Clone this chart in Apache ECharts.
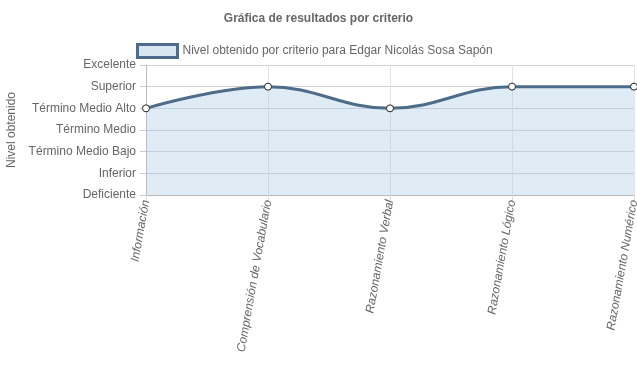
<!DOCTYPE html>
<html><head><meta charset="utf-8">
<script src="https://cdn.jsdelivr.net/npm/echarts@6/dist/echarts.min.js"></script>
<style>html,body{margin:0;padding:0;background:#fff}#c{width:637px;height:389px}</style>
</head><body><div id="c"></div>
<script>
const categories = ["Información","Comprensión de Vocabulario","Razonamiento Verbal","Razonamiento Lógico","Razonamiento Numérico"];
const levels = ["Deficiente","Inferior","Término Medio Bajo","Término Medio","Término Medio Alto","Superior","Excelente"];
const values = [4,5,4,5,5];
const seriesName = "Nivel obtenido por criterio para Edgar Nicolás Sosa Sapón";
const titleText = "Gráfica de resultados por criterio";
const yName = "Nivel obtenido";

const chart = echarts.init(document.getElementById('c'));
const font = "'Liberation Sans', Arial, Helvetica, sans-serif";
chart.setOption({
  animation:false,
  textStyle:{fontFamily:font},
  title:{text:titleText,left:'center',top:8,textStyle:{fontSize:12,fontWeight:'bold',color:'#666',fontFamily:font}},
  legend:{top:43,left:136,padding:0,itemWidth:40,itemHeight:13,itemGap:6,icon:'rect',
    textStyle:{fontSize:12,color:'#666',fontFamily:font},
    data:[{name:seriesName,itemStyle:{color:'#d8e6f2',borderColor:'#4d6c8a',borderWidth:3}}]},
  grid:{left:146,right:3,top:65,bottom:194,containLabel:false,outerBoundsMode:'none'},
  xAxis:{type:'category',data:categories,boundaryGap:false,
    axisLine:{show:true,lineStyle:{color:'#bbb'}},
    axisTick:{show:true,length:6,lineStyle:{color:'#ddd'}},
    splitLine:{show:true,lineStyle:{color:'#e3e3e3'}},
    axisLabel:{rotate:80,color:'#666',fontSize:12,fontStyle:'italic',fontFamily:font,margin:5,interval:0}},
  yAxis:{type:'value',min:0,max:6,interval:1,name:yName,nameLocation:'middle',nameGap:128,
    nameTextStyle:{color:'#666',fontSize:12,fontFamily:font},
    axisLine:{show:true,lineStyle:{color:'#bbb'}},
    axisTick:{show:true,length:6,lineStyle:{color:'#ccc'}},
    splitLine:{show:true,lineStyle:{color:'#d2d2d2'}},
    axisLabel:{color:'#666',fontSize:12,fontFamily:font,margin:10,formatter:v=>levels[v]}},
  series:[{name:seriesName,type:'line',data:values,smooth:0.4,
    symbol:'circle',symbolSize:7,
    lineStyle:{color:'#4d6c8a',width:3},
    itemStyle:{color:'#fff',borderColor:'#222',borderWidth:1},
    areaStyle:{color:'rgba(165,199,227,0.5)'}}]
});
</script></body></html>
